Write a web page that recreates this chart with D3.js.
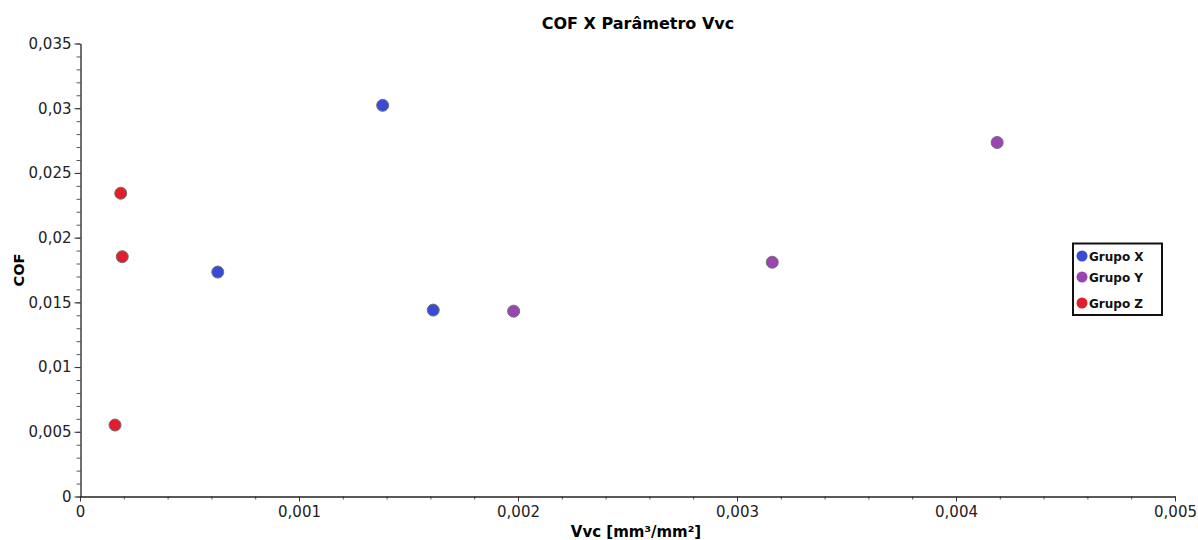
<!DOCTYPE html>
<html><head><meta charset="utf-8">
<script src="https://cdn.jsdelivr.net/npm/d3@7"></script>
<style>body{margin:0;background:#fff}svg{display:block}</style>
</head><body>
<svg id="c" width="1198" height="540"></svg>
<script>
const groups = ["Grupo X", "Grupo Y", "Grupo Z"];
const colors = ["#3a4bd3", "#9b45b1", "#e11f28"];
const grupoX_vvc = [0.000629, 0.001382, 0.001613];
const grupoX_cof = [0.01734, 0.03022, 0.01440];
const grupoY_vvc = [0.001980, 0.003161, 0.004188];
const grupoY_cof = [0.01432, 0.01810, 0.02735];
const grupoZ_vvc = [0.000186, 0.000193, 0.000160];
const grupoZ_cof = [0.02343, 0.01853, 0.00552];
const xTicks = [0, 0.001, 0.002, 0.003, 0.004, 0.005];
const yTicks = [0, 0.005, 0.01, 0.015, 0.02, 0.025, 0.03, 0.035];

const svg = d3.select("#c");
const font = "'DejaVu Sans', Verdana, sans-serif";
const x = d3.scaleLinear().domain([0, 0.005]).range([80, 1175]);
const y = d3.scaleLinear().domain([0, 0.035]).range([496.5, 43.5]);
const fmt = d => d3.format("~g")(d).replace(".", ",");

// minor ticks
const gxm = svg.append("g").attr("transform", "translate(0,496.5)")
  .call(d3.axisBottom(x).tickValues(d3.range(0, 0.00501, 0.0002)).tickSize(3).tickFormat(""));
gxm.select(".domain").remove();
gxm.selectAll("line").attr("stroke", "#555");
const gym = svg.append("g").attr("transform", "translate(80.5,0)")
  .call(d3.axisLeft(y).tickValues(d3.range(0, 0.03501, 0.001)).tickSize(4).tickFormat(""));
gym.select(".domain").remove();
gym.selectAll("line").attr("stroke", "#555");

// major axes
const gx = svg.append("g").attr("transform", "translate(0,496.5)")
  .call(d3.axisBottom(x).tickValues(xTicks).tickSize(5).tickSizeOuter(0).tickFormat(fmt).tickPadding(5));
const gy = svg.append("g").attr("transform", "translate(80.5,0)")
  .call(d3.axisLeft(y).tickValues(yTicks).tickSize(6).tickSizeOuter(0).tickFormat(fmt).tickPadding(3));
[gx, gy].forEach(g => {
  g.select(".domain").attr("stroke", "#222").attr("stroke-width", 1.3);
  g.selectAll("line").attr("stroke", "#333");
  g.selectAll("text").attr("font-family", font).attr("font-size", 15).attr("fill", "#222");
});

// title & axis labels
svg.append("text").attr("x", 638).attr("y", 29).attr("text-anchor", "middle")
  .attr("font-family", font).attr("font-weight", "bold").attr("font-size", 16).text("COF X Parâmetro Vvc");
svg.append("text").attr("x", 636).attr("y", 537).attr("text-anchor", "middle")
  .attr("font-family", font).attr("font-weight", "bold").attr("font-size", 15).text("Vvc [mm³/mm²]");
svg.append("text").attr("transform", "translate(24,270) rotate(-90)").attr("text-anchor", "middle")
  .attr("font-family", font).attr("font-weight", "bold").attr("font-size", 14.5).text("COF");

// points
const series = [
  {g: 0, xs: grupoX_vvc, ys: grupoX_cof},
  {g: 1, xs: grupoY_vvc, ys: grupoY_cof},
  {g: 2, xs: grupoZ_vvc, ys: grupoZ_cof}
];
series.forEach(s => {
  svg.append("g").selectAll("circle").data(s.xs.map((v, i) => [v, s.ys[i]])).join("circle")
    .attr("cx", d => x(d[0])).attr("cy", d => y(d[1])).attr("r", 6)
    .attr("fill", colors[s.g]).attr("stroke", "#6f6f7a").attr("stroke-width", 1);
});

// legend
const lg = svg.append("g");
lg.append("rect").attr("x", 1073).attr("y", 243.5).attr("width", 89).attr("height", 71.5)
  .attr("fill", "#fff").attr("stroke", "#111").attr("stroke-width", 2);
const ly = [256, 277, 303];
groups.forEach((name, i) => {
  lg.append("circle").attr("cx", 1082).attr("cy", ly[i]).attr("r", 5.5).attr("fill", colors[i]);
  lg.append("text").attr("x", 1089).attr("y", ly[i] + 4.5).attr("font-family", font)
    .attr("font-weight", "bold").attr("font-size", 12).attr("fill", "#111").text(name);
});
</script>
</body></html>
